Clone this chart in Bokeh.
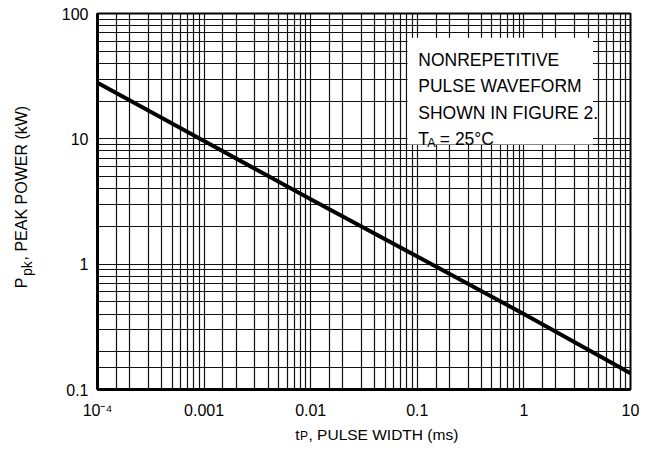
from bokeh.plotting import figure
from bokeh.models import FixedTicker, Label, BoxAnnotation, LogAxis
from bokeh.embed import file_html
from bokeh.resources import INLINE
import math

# ---- data ----
pulse_width_ms = [1e-4, 1e-3, 1e-2, 1e-1, 1, 10]
peak_power_kw = [28, 9.6, 3.3, 1.15, 0.40, 0.135]

x_major = [1e-4, 1e-3, 1e-2, 1e-1, 1, 10]
x_labels = ["10\u207b\u2074", "0.001", "0.01", "0.1", "1", "10"]
y_major = [0.1, 1, 10, 100]
y_labels = ["0.1", "1", "10", "100"]

note_lines = ["NONREPETITIVE", "PULSE WAVEFORM", "SHOWN IN FIGURE 2."]
x_title_parts = ["t", "P", ", PULSE WIDTH (ms)"]
y_title_parts = ["P", "pk", ", PEAK POWER (kW)"]

FONT = "Liberation Sans"

x_minor = []
for d in x_major[:-1]:
    for m in [1.5, 2, 3, 4, 5, 6, 7, 8, 9]:
        x_minor.append(d * m)
y_minor = [0.15]
for d in y_major[:-1]:
    for m in [2, 3, 4, 5, 6, 7, 8, 9]:
        y_minor.append(d * m)

W, H = 639, 446
BL, BR, BT, BB = 97, 9, 13, 57
FX0, FX1 = BL, W - BR
FY0, FY1 = BT, H - BB

def xdata(px):
    return 10 ** (-4 + (px - FX0) / ((FX1 - FX0) / 5))

def ydata(py):
    return 10 ** (2 - (py - FY0) / ((FY1 - FY0) / 3))

p = figure(width=W, height=H, x_axis_type="log", y_axis_type="log",
           x_range=(1e-4, 10), y_range=(0.1, 100),
           output_backend="svg", toolbar_location=None,
           min_border_left=BL, min_border_right=BR, min_border_top=BT, min_border_bottom=BB)

p.background_fill_color = "white"
p.border_fill_color = "white"
p.outline_line_color = "black"
p.outline_line_width = 2

xa = p.xaxis[0]
ya = p.yaxis[0]
xa.ticker = FixedTicker(ticks=x_major, minor_ticks=x_minor)
ya.ticker = FixedTicker(ticks=y_major, minor_ticks=y_minor)
xa.major_label_overrides = {v: s for v, s in zip(x_major, x_labels)}
ya.major_label_overrides = {v: s for v, s in zip(y_major, y_labels)}

def plain(ax):
    ax.major_tick_line_color = None
    ax.minor_tick_line_color = None
    ax.major_tick_out = 0
    ax.major_tick_in = 0
    ax.minor_tick_out = 0
    ax.minor_tick_in = 0
    ax.major_label_text_font = FONT
    ax.major_label_text_color = "black"

for ax in (xa, ya):
    plain(ax)
    ax.axis_line_color = "black"
    ax.axis_line_width = 3
    ax.major_label_text_font_size = "16px"
xa.major_label_standoff = 12
ya.major_label_standoff = 9

for g in (p.xgrid, p.ygrid):
    g.grid_line_color = "#111111"
    g.grid_line_width = 1.2
    g.minor_grid_line_color = "#111111"
    g.minor_grid_line_width = 1.2

p.line(pulse_width_ms, peak_power_kw, line_color="black", line_width=4)

# axis titles built from text-only axes (so subscripts can be sized separately)
def text_axis(side, positions, texts, size, standoff, orientation):
    ax = LogAxis(ticker=FixedTicker(ticks=positions, minor_ticks=[]),
                 major_label_overrides={v: s for v, s in zip(positions, texts)})
    plain(ax)
    ax.axis_line_color = None
    ax.major_label_text_font_size = size
    ax.major_label_standoff = standoff
    ax.major_label_orientation = orientation
    p.add_layout(ax, side)

# x title (labels centred on their positions)
text_axis("below", [xdata(303.5)], [x_title_parts[1]], "12px", 7, "horizontal")
text_axis("below", [xdata(297.0), xdata(382.9)], [x_title_parts[0], x_title_parts[2]],
          "15.5px", -20, "horizontal")

# y title (vertical; each label ends at its position)
text_axis("left", [ydata(260.7)], [y_title_parts[1]], "14px", 31, math.pi / 2)
text_axis("left", [ydata(277.0), ydata(105.3)], [y_title_parts[0], y_title_parts[2]],
          "16px", -13, math.pi / 2)

# white note box
p.add_layout(BoxAnnotation(left=0.081, right=4.45, bottom=9.0, top=64,
                           fill_color="white", fill_alpha=1.0, line_color=None))

def lab(text, x, y, xo, yo, size):
    p.add_layout(Label(x=x, y=y, x_offset=xo, y_offset=yo, text=text,
                       text_font=FONT, text_font_size=size, text_color="black",
                       text_align="left", text_baseline="alphabetic"))

for i, t in enumerate(note_lines):
    lab(t, 0.1, 100, 1, -46 - 26.5 * i, "17.5px")
lab("T", 0.1, 100, 1, -125, "17.5px")
lab("A", 0.1, 100, 10, -129, "12.5px")
lab("= 25\u00b0C", 0.1, 100, 22.5, -125, "17.5px")

open("out.html", "w").write(file_html(p, INLINE))
